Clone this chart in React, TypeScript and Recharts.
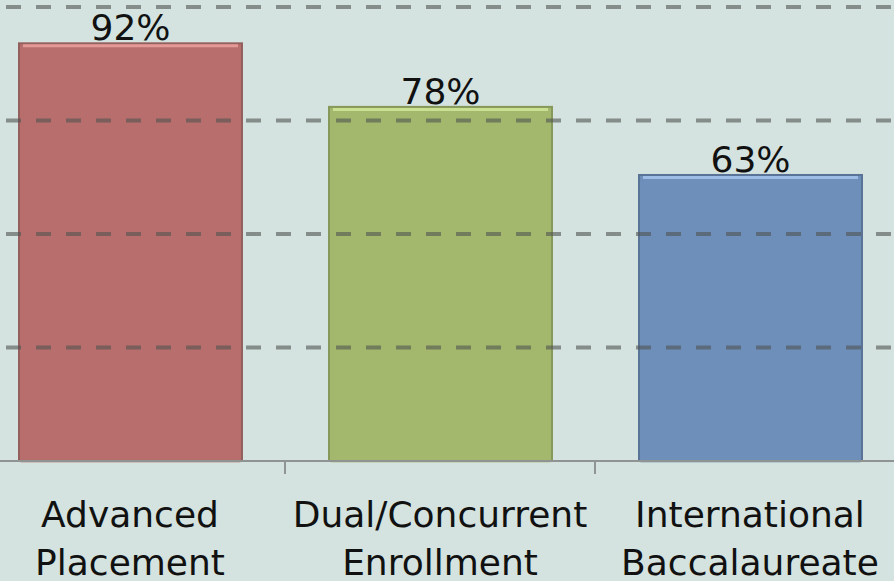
import React from "react";
import { BarChart, Bar, XAxis, YAxis, ReferenceLine, LabelList, Cell } from "recharts";

const categories = ["Advanced Placement", "Dual/Concurrent Enrollment", "International Baccalaureate"];
const values = [92, 78, 63];
const gridValues = [25, 50, 75, 100];
const fills = ["#b76e6c", "#a3b86d", "#6f8fbb"];
const strokes = ["#94605e", "#86985a", "#5a7498"];
const highlights = ["#e39a97", "#c9df92", "#9dbde6"];

const data = categories.map((name, i) => ({ name, value: values[i] }));

const PAGE_W = 894;
const PAGE_H = 581;
const CHART_W = 930;
const OFFSET_X = -25;
const BAND = CHART_W / categories.length;
const FONT = "'DejaVu Sans', sans-serif";

const BarShape = (props: any) => {
  const { x, y, width, height, index } = props;
  if (height <= 0) return null;
  return (
    <g>
      <rect x={x} y={y} width={width} height={height} fill={fills[index]} stroke={strokes[index]} strokeWidth={2} />
      <rect x={x + 3} y={y + 3} width={width - 6} height={height - 3} fill="none" stroke={fills[index]} strokeOpacity={0.6} strokeWidth={3} />
      <line x1={x + 4} x2={x + width - 4} y1={y + 2.5} y2={y + 2.5} stroke={highlights[index]} strokeWidth={3} />
    </g>
  );
};

const Tick = (props: any) => {
  const { x, y, payload } = props;
  const words = String(payload.value).split(" ");
  return (
    <g>
      <line x1={x - BAND / 2} x2={x - BAND / 2} y1={y} y2={y + 13} stroke="#8f9492" strokeWidth={2} />
      <line x1={x + BAND / 2} x2={x + BAND / 2} y1={y} y2={y + 13} stroke="#8f9492" strokeWidth={2} />
      {words.map((w, i) => (
        <text key={i} x={x} y={y + 66 + i * 48} textAnchor="middle" fontSize={36} fontFamily={FONT} fill="#111">
          {w}
        </text>
      ))}
    </g>
  );
};

export default function App() {
  return (
    <div
      style={{
        position: "fixed",
        left: 0,
        top: 0,
        width: PAGE_W,
        height: PAGE_H,
        overflow: "hidden",
        background: "#d4e3df",
      }}
    >
      <div style={{ position: "absolute", left: OFFSET_X, top: 0 }}>
        <BarChart width={CHART_W} height={PAGE_H} data={data} margin={{ top: 7, right: 0, bottom: 0, left: 0 }}>
          <YAxis hide domain={[0, 100]} ticks={gridValues} />
          <XAxis
            dataKey="name"
            height={120}
            axisLine={{ stroke: "#8f9492", strokeWidth: 2 }}
            tickLine={false}
            tickSize={0}
            tickMargin={0}
            tick={<Tick />}
            interval={0}
          />
          <Bar dataKey="value" barSize={223} isAnimationActive={false} shape={<BarShape />}>
            {data.map((d, i) => (
              <Cell key={i} fill={fills[i]} />
            ))}
            <LabelList
              dataKey="value"
              position="top"
              offset={3}
              formatter={(v: any) => `${v}%`}
              style={{ fontSize: 36, fontFamily: FONT, fill: "#111" }}
            />
          </Bar>
          {gridValues.map((g) => (
            <ReferenceLine
              key={g}
              y={g}
              stroke="rgba(80,84,82,0.6)"
              strokeWidth={4}
              strokeDasharray="15 15"
              strokeDashoffset={-1}
              ifOverflow="visible"
            />
          ))}
        </BarChart>
      </div>
    </div>
  );
}
